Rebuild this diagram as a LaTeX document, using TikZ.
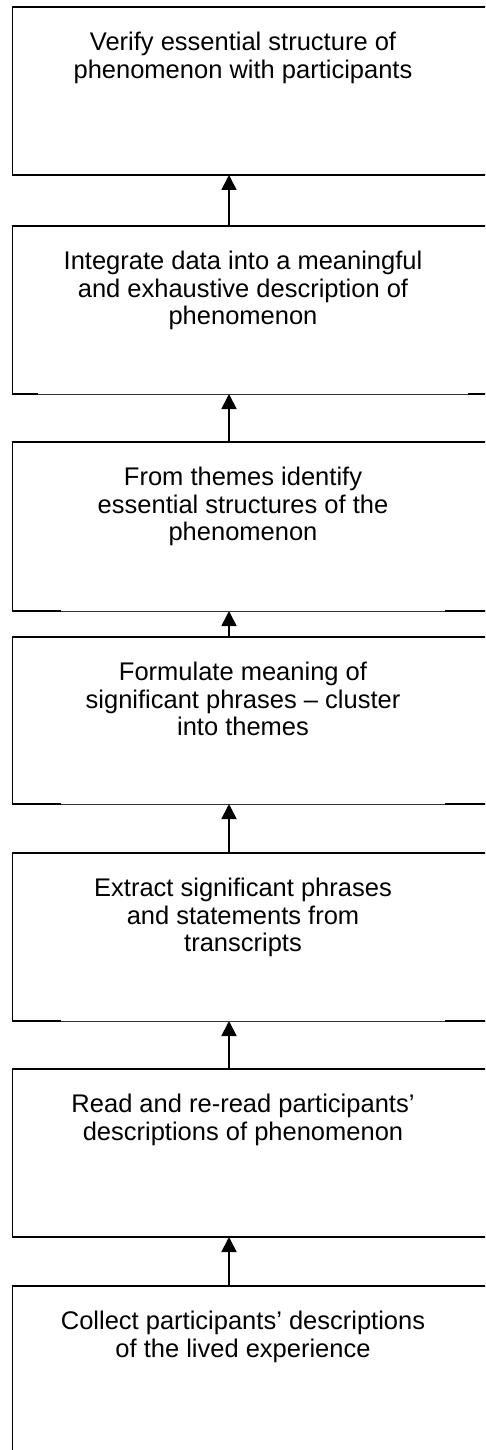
\documentclass[tikz,border=0pt]{standalone}
\usepackage{fontspec}
\setmainfont{Liberation Sans}
\usetikzlibrary{arrows.meta}
\begin{document}
\begin{tikzpicture}[x=1pt,y=-1pt,
  boxarea/.style={minimum width=488pt, minimum height=168pt, inner sep=0pt, outer sep=0pt, anchor=north west, draw=none},
  lastarea/.style={boxarea, minimum height=200pt},
  boxtext/.style={anchor=north, inner sep=0pt, align=center, font=\fontsize{25.5}{27.5}\selectfont},
  frame/.style={line width=1.8pt, line cap=rect},
  thinline/.style={line width=0.8pt, black!80},
  arr/.style={line width=1.8pt, -{Triangle[length=15pt,width=15pt]}}]
\useasboundingbox (0,0) rectangle (485,1450);
\clip (0,0) rectangle (485,1450);
\fill[white] (0,0) rectangle (485,1450);
\coordinate (ax) at (229,0);
\coordinate (tx) at (243,0);
% boxes
\node[boxarea] (b1) at (12.5,7) {};
\node[boxarea] (b2) at (12.5,226) {};
\node[boxarea, minimum height=169pt] (b3) at (12.5,442) {};
\node[boxarea, minimum height=167pt] (b4) at (12.5,637) {};
\node[boxarea] (b5) at (12.5,853) {};
\node[boxarea] (b6) at (12.5,1069) {};
\node[lastarea] (b7) at (12.5,1286) {};
% texts
\node[boxtext] (t1) at ([yshift=-25pt]b1.north -| tx) {Verify essential structure of\\phenomenon with participants};
\node[boxtext] (t2) at ([yshift=-25pt]b2.north -| tx) {Integrate data into a meaningful\\and exhaustive description of\\phenomenon};
\node[boxtext] (t3) at ([yshift=-25pt]b3.north -| tx) {From themes identify\\essential structures of the\\phenomenon};
\node[boxtext] (t4) at ([yshift=-25pt]b4.north -| tx) {Formulate meaning of\\significant phrases – cluster\\into themes};
\node[boxtext] (t5) at ([yshift=-25pt]b5.north -| tx) {Extract significant phrases\\and statements from\\transcripts};
\node[boxtext] (t6) at ([yshift=-25pt]b6.north -| tx) {Read and re-read participants’\\descriptions of phenomenon};
\node[boxtext] (t7) at ([yshift=-25pt]b7.north -| tx) {Collect participants’ descriptions\\of the lived experience};
% frames: full boxes
\foreach \b in {b1,b6}{
  \draw[frame] (\b.south west) -- (\b.north west) -- (\b.north east) -- (\b.south east) -- cycle;
}
\draw[frame] (b7.south west) -- (b7.north west) -- (b7.north east);
% boxes with thin bottom middle
\foreach \b in {b2,b3,b4,b5}{
  \draw[frame] (\b.south west) -- (\b.north west) -- (\b.north east) -- (\b.south east);
  \draw[thinline] (\b.south west) -- (\b.south east);
}
\draw[frame] (b2.south west) -- ++(24.5,0);
\draw[frame] (b2.south east) -- ++(-32,0);
\foreach \b in {b3,b4,b5}{
  \draw[frame] (\b.south west) -- ++(47.5,0);
  \draw[frame] (\b.south east) -- ++(-55,0);
}
% arrows
\draw[arr] (b2.north -| ax) -- (b1.south -| ax);
\draw[arr] (b3.north -| ax) -- (b2.south -| ax);
\draw[arr] (b4.north -| ax) -- (b3.south -| ax);
\draw[arr] (b5.north -| ax) -- (b4.south -| ax);
\draw[arr] (b6.north -| ax) -- (b5.south -| ax);
\draw[arr] (b7.north -| ax) -- (b6.south -| ax);
\end{tikzpicture}
\end{document}
